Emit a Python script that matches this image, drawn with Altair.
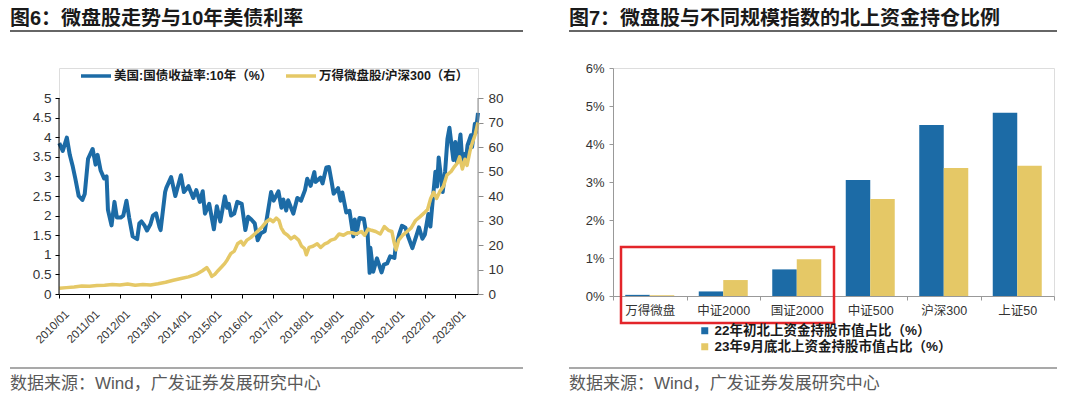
import altair as alt
import pandas as pd

# ---------------- left chart data ----------------
left_series = ["美国:国债收益率:10年（%）", "万得微盘股/沪深300（右）"]

blue_dates = [
    "2010-01-04", "2010-02-15", "2010-04-05", "2010-05-10", "2010-06-15", "2010-07-15",
    "2010-08-25", "2010-10-08", "2010-11-05", "2010-12-15", "2011-02-08", "2011-03-15",
    "2011-04-08", "2011-05-15", "2011-06-25", "2011-07-25", "2011-08-10", "2011-09-22",
    "2011-10-27", "2011-11-25", "2012-01-10", "2012-02-10", "2012-03-19", "2012-04-20",
    "2012-06-01", "2012-07-25", "2012-08-20", "2012-09-14", "2012-10-20", "2012-11-20",
    "2012-12-31", "2013-01-30", "2013-03-08", "2013-04-19", "2013-05-02", "2013-06-25",
    "2013-07-08", "2013-09-05", "2013-10-25", "2013-12-31", "2014-02-05", "2014-04-01",
    "2014-05-28", "2014-07-03", "2014-08-15", "2014-09-18", "2014-10-15", "2014-12-05",
    "2015-01-30", "2015-03-06", "2015-04-17", "2015-06-10", "2015-07-08", "2015-07-28",
    "2015-08-24", "2015-09-30", "2015-11-06", "2015-12-29", "2016-02-11", "2016-03-15",
    "2016-04-22", "2016-06-02", "2016-07-08", "2016-08-15", "2016-09-30", "2016-11-16",
    "2016-12-15", "2017-01-15", "2017-03-13", "2017-04-18", "2017-05-10", "2017-06-14",
    "2017-07-07", "2017-09-07", "2017-10-25", "2017-12-08", "2018-01-25", "2018-02-21",
    "2018-04-03", "2018-05-17", "2018-06-01", "2018-07-30", "2018-08-23", "2018-10-08",
    "2018-11-08", "2018-12-10", "2019-01-03", "2019-02-25", "2019-03-27", "2019-04-17",
    "2019-06-03", "2019-07-12", "2019-08-27", "2019-09-13", "2019-10-03", "2019-11-08",
    "2019-12-31", "2020-01-31", "2020-02-12", "2020-03-09", "2020-03-18", "2020-04-21",
    "2020-06-05", "2020-07-30", "2020-08-27", "2020-10-05", "2020-11-10", "2020-12-31",
    "2021-01-12", "2021-02-25", "2021-03-31", "2021-05-12", "2021-06-18", "2021-08-03",
    "2021-09-28", "2021-10-21", "2021-12-01", "2021-12-31", "2022-02-10", "2022-03-07",
    "2022-04-04", "2022-05-06", "2022-05-26", "2022-06-14", "2022-08-01", "2022-08-30",
    "2022-09-27", "2022-10-21", "2022-11-15", "2022-12-07", "2022-12-30", "2023-01-18",
    "2023-03-02", "2023-03-24", "2023-04-21", "2023-05-04", "2023-05-26", "2023-07-06",
    "2023-07-19", "2023-08-21", "2023-09-01", "2023-09-28",
]
blue_vals = [
    3.85, 3.65, 3.99, 3.55, 3.25, 2.95,
    2.50, 2.40, 2.55, 3.45, 3.70, 3.30,
    3.55, 3.15, 2.95, 3.00, 2.15, 1.75,
    2.35, 1.95, 1.95, 2.00, 2.38, 1.95,
    1.47, 1.40, 1.80, 1.85, 1.75, 1.62,
    1.78, 2.00, 2.06, 1.70, 1.63, 2.60,
    2.70, 2.98, 2.50, 3.03, 2.60, 2.75,
    2.45, 2.65, 2.35, 2.62, 2.05, 2.30,
    1.65, 2.24, 1.85, 2.49, 2.20, 2.30,
    2.00, 2.05, 2.35, 2.30, 1.63, 1.97,
    1.90, 1.80, 1.37, 1.55, 1.60, 2.22,
    2.60, 2.38, 2.62, 2.20, 2.41, 2.13,
    2.39, 2.05, 2.45, 2.38, 2.65, 2.94,
    2.76, 3.11, 2.86, 2.97, 2.82, 3.23,
    3.24, 2.86, 2.56, 2.70, 2.38, 2.59,
    2.08, 2.12, 1.47, 1.90, 1.53, 1.94,
    1.92, 1.51, 1.62, 0.54, 1.18, 0.57,
    0.91, 0.55, 0.75, 0.78, 0.96, 0.92,
    1.15, 1.52, 1.74, 1.69, 1.44, 1.17,
    1.54, 1.70, 1.41, 1.52, 2.04, 1.72,
    2.40, 3.12, 2.74, 3.48, 2.60, 3.12,
    3.95, 4.24, 3.80, 3.42, 3.88, 3.37,
    4.07, 3.38, 3.57, 3.35, 3.80, 4.05,
    3.75, 4.34, 4.12, 4.62,
]

yellow_dates = [
    "2010-01-04", "2010-04-01", "2010-07-01", "2010-10-01", "2011-01-01", "2011-04-01",
    "2011-07-01", "2011-10-01", "2012-01-01", "2012-04-01", "2012-07-01", "2012-10-01",
    "2013-01-01", "2013-04-01", "2013-07-01", "2013-10-01", "2014-01-01", "2014-04-01",
    "2014-07-01", "2014-09-15", "2014-11-05", "2014-12-10", "2015-01-05", "2015-02-10",
    "2015-03-20", "2015-05-01", "2015-06-10", "2015-07-10", "2015-08-20", "2015-10-01",
    "2015-11-10", "2015-12-20", "2016-01-20", "2016-03-01", "2016-04-15", "2016-06-01",
    "2016-07-20", "2016-09-01", "2016-10-20", "2016-12-01", "2017-01-10", "2017-02-15",
    "2017-03-20", "2017-04-15", "2017-05-20", "2017-07-01", "2017-08-10", "2017-09-20",
    "2017-11-10", "2017-12-15", "2018-01-20", "2018-02-10", "2018-03-15", "2018-05-01",
    "2018-06-20", "2018-08-01", "2018-09-20", "2018-10-25", "2018-12-01", "2019-01-20",
    "2019-03-10", "2019-05-01", "2019-06-20", "2019-08-10", "2019-10-01", "2019-12-01",
    "2020-01-10", "2020-02-20", "2020-04-01", "2020-05-20", "2020-07-15", "2020-09-01",
    "2020-10-20", "2020-12-01", "2020-12-28", "2021-01-20", "2021-02-20", "2021-04-10",
    "2021-06-01", "2021-07-20", "2021-09-10", "2021-11-01", "2021-12-20", "2022-02-01",
    "2022-03-10", "2022-04-15", "2022-05-20", "2022-07-01", "2022-08-10", "2022-09-20",
    "2022-11-10", "2022-12-20", "2023-01-25", "2023-02-20", "2023-03-25", "2023-04-25",
    "2023-05-20", "2023-06-25", "2023-07-25", "2023-08-25", "2023-09-28",
]
yellow_vals = [
    2.3, 2.6, 2.9, 3.3, 3.2, 3.5,
    3.6, 3.9, 3.7, 4.1, 3.6, 3.9,
    3.7, 4.2, 4.8, 5.6, 6.3, 7.0,
    8.0, 9.5, 10.8, 9.0, 7.2, 8.0,
    9.5, 11.0, 12.5, 14.0, 16.5, 17.5,
    20.5, 21.5, 20.0, 22.0, 23.0, 24.5,
    26.0, 27.5, 29.5, 30.5, 29.5, 31.0,
    30.0, 27.0, 25.0, 24.0, 22.5, 23.5,
    22.0, 19.5, 18.5, 16.0, 19.0, 19.5,
    20.5, 19.0, 20.5, 21.0, 22.0, 22.5,
    24.5, 24.0, 25.0, 25.0, 24.5, 25.5,
    24.0, 26.5, 26.0, 25.5, 24.5, 27.5,
    26.0, 25.5, 21.0, 18.0, 22.0, 24.0,
    25.5, 27.0, 30.0, 31.5, 33.0, 34.5,
    39.0, 41.5, 39.0, 42.0, 44.0, 48.5,
    50.0, 52.0, 53.5, 56.0, 51.0, 55.0,
    52.5, 58.5, 62.0, 65.0, 70.0,
]

left_y_ticks = [0, 0.5, 1, 1.5, 2, 2.5, 3, 3.5, 4, 4.5, 5]
right_y_ticks = [0, 10, 20, 30, 40, 50, 60, 70, 80]
year_ticks = [f"{y}-01-01" for y in range(2010, 2024)]
x_domain = ["2010-01-01", "2023-09-28"]

# ---------------- right chart data ----------------
categories = ["万得微盘", "中证2000", "国证2000", "中证500", "沪深300", "上证50"]
bar_series = ["22年初北上资金持股市值占比（%）", "23年9月底北上资金持股市值占比（%）"]
vals_2022 = [0.03, 0.12, 0.70, 3.05, 4.50, 4.82]
vals_2023 = [0.02, 0.42, 0.97, 2.55, 3.37, 3.43]
bar_y_ticks = [0, 1, 2, 3, 4, 5, 6]

title_left = "图6：微盘股走势与10年美债利率"
title_right = "图7：微盘股与不同规模指数的北上资金持仓比例"
source_text = "数据来源：Wind，广发证券发展研究中心"

# ---------------- styles ----------------
BLUE = "#1C6BA6"
YELLOW = "#E5C866"
CJK = "Liberation Sans, Noto Sans CJK SC"
NUM = "Liberation Sans"


def ms(d):
    return int(pd.Timestamp(d, tz="UTC").value // 10**6)


def text_layer(txt, x, y, size, weight="normal", color="#000000", baseline="top"):
    return alt.Chart(pd.DataFrame({"t": [txt]})).mark_text(
        align="left", baseline=baseline, font=CJK, fontSize=size,
        fontWeight=weight, color=color
    ).encode(x=alt.value(x), y=alt.value(y), text="t:N")


def hrule(x1, x2, y, color, w):
    return alt.Chart(pd.DataFrame({"a": [0]})).mark_rule(
        color=color, strokeWidth=w
    ).encode(x=alt.value(x1), x2=alt.value(x2), y=alt.value(y))


def vrule(x, y1, y2, color, w):
    return alt.Chart(pd.DataFrame({"a": [0]})).mark_rule(
        color=color, strokeWidth=w
    ).encode(x=alt.value(x), y=alt.value(y1), y2=alt.value(y2))


# ---------------- left chart ----------------
# plot region spans 226 px; the 0..5 / 0..80 axes occupy the lower 196 px
LW, LH, LAX = 419, 226, 196
top_gap = LH - LAX
left_max = 5 * LH / LAX
right_max = 80 * LH / LAX

df_b = pd.DataFrame({"date": blue_dates, "v": blue_vals, "s": left_series[0]})
df_y = pd.DataFrame({"date": yellow_dates, "v": yellow_vals, "s": left_series[1]})

xenc = alt.X(
    "date:T",
    scale=alt.Scale(type="utc", domain=[ms(d) for d in x_domain]),
    axis=alt.Axis(
        values=[ms(d) for d in year_ticks], format="%Y/%m", labelAngle=-45,
        labelAlign="right", labelBaseline="top", labelPadding=10, labelOffset=4,
        tickSize=4, domainColor="#000000", tickColor="#000000", labelColor="#333333",
        labelFont=NUM, labelFontSize=11.5, title=None, grid=False, labelOverlap=False,
    ),
)
lcolor = alt.Color(
    "s:N",
    scale=alt.Scale(domain=left_series, range=[BLUE, YELLOW]),
    legend=alt.Legend(
        orient="none", legendX=20, legendY=-9, direction="horizontal", title=None,
        symbolType="stroke", symbolSize=900, symbolStrokeWidth=3.5,
        labelFont=CJK, labelFontSize=12.5, labelFontWeight="bold", labelColor="#1a1a1a",
        columnPadding=6, labelOffset=1, padding=0, labelLimit=0,
    ),
)

blue_line = alt.Chart(df_b).mark_line(strokeWidth=4, strokeJoin="round").encode(
    x=xenc,
    y=alt.Y(
        "v:Q", scale=alt.Scale(domain=[0, left_max], nice=False),
        axis=alt.Axis(
            orient="left", values=left_y_ticks, format=".1~f", title=None, grid=False,
            domain=False, tickColor="#000000", tickSize=4, labelPadding=4,
            labelColor="#333333", labelFont=NUM, labelFontSize=13.5,
        ),
    ),
    color=lcolor,
)
yellow_line = alt.Chart(df_y).mark_line(strokeWidth=3.5, strokeJoin="round").encode(
    x=xenc,
    y=alt.Y(
        "v:Q", scale=alt.Scale(domain=[0, right_max], nice=False),
        axis=alt.Axis(
            orient="right", values=right_y_ticks, title=None, grid=False,
            domain=False, tickColor="#8c8c8c", tickSize=5, labelPadding=5,
            labelColor="#333333", labelFont=NUM, labelFontSize=13.5,
        ),
    ),
    color=lcolor,
)

left = alt.layer(
    blue_line, yellow_line,
    vrule(0, top_gap, LH, "#000000", 1),
    vrule(LW, top_gap, LH, "#8c8c8c", 1),
    text_layer(title_left, -49, -59, 20, "bold", "#1a1a1a"),
    hrule(-49, 464, -37, "#333333", 1.5),
    hrule(-49, 464, 300, "#8c8c8c", 1.5),
    text_layer(source_text, -49, 316, 17, "normal", "#595959", "middle"),
).resolve_scale(y="independent").properties(width=LW, height=LH)

# ---------------- right chart ----------------
RW, RH = 441, 228
df_bar = pd.DataFrame({
    "cat": categories * 2,
    "s": [bar_series[0]] * len(categories) + [bar_series[1]] * len(categories),
    "v": vals_2022 + vals_2023,
})

bars = alt.Chart(df_bar).mark_bar().encode(
    x=alt.X(
        "cat:N", sort=categories, scale=alt.Scale(paddingInner=0, paddingOuter=0),
        axis=alt.Axis(
            tickBand="extent", labelAngle=0, title=None, domainColor="#999999",
            tickColor="#999999", tickSize=4, labelPadding=4, labelColor="#333333",
            labelFont=CJK, labelFontSize=12.5,
        ),
    ),
    xOffset=alt.XOffset(
        "s:N", sort=bar_series, scale=alt.Scale(paddingInner=0, paddingOuter=0.5)
    ),
    y=alt.Y(
        "v:Q", scale=alt.Scale(domain=[0, 6], nice=False),
        axis=alt.Axis(
            values=bar_y_ticks, labelExpr="datum.value + '%'", title=None, grid=False,
            domainColor="#999999", tickColor="#999999", tickSize=4, labelPadding=5,
            labelColor="#333333", labelFont=NUM, labelFontSize=13,
        ),
    ),
    color=alt.Color(
        "s:N",
        scale=alt.Scale(domain=bar_series, range=[BLUE, YELLOW]),
        legend=alt.Legend(
            orient="none", legendX=85, legendY=256, direction="vertical", title=None,
            symbolType="square", symbolSize=49, symbolStrokeWidth=0,
            labelFont=CJK, labelFontSize=13.5, labelFontWeight="bold",
            labelColor="#1a1a1a", rowPadding=1, labelOffset=3, padding=0, labelLimit=0,
        ),
    ),
)

red_box = alt.Chart(pd.DataFrame({"a": [0]})).mark_rect(
    fillOpacity=0, stroke="#E3252A", strokeWidth=2.5
).encode(x=alt.value(8), x2=alt.value(221), y=alt.value(179), y2=alt.value(255))

right = alt.layer(
    bars, red_box,
    text_layer(title_right, -44, -59, 20, "bold", "#1a1a1a"),
    hrule(-44, 444, -37, "#333333", 1.5),
    hrule(-44, 444, 300, "#8c8c8c", 1.5),
    text_layer(source_text, -44, 316, 17, "normal", "#595959", "middle"),
).properties(width=RW, height=RH)

chart = alt.hconcat(left, right, spacing=135, bounds="flush").resolve_scale(
    color="independent"
).resolve_legend(color="independent").properties(
    padding=0, autosize=alt.AutoSizeParams(type="pad")
).configure_view(stroke="transparent").configure(background="white")

chart.save("out.html", embed_options={"renderer": "svg", "actions": False})
